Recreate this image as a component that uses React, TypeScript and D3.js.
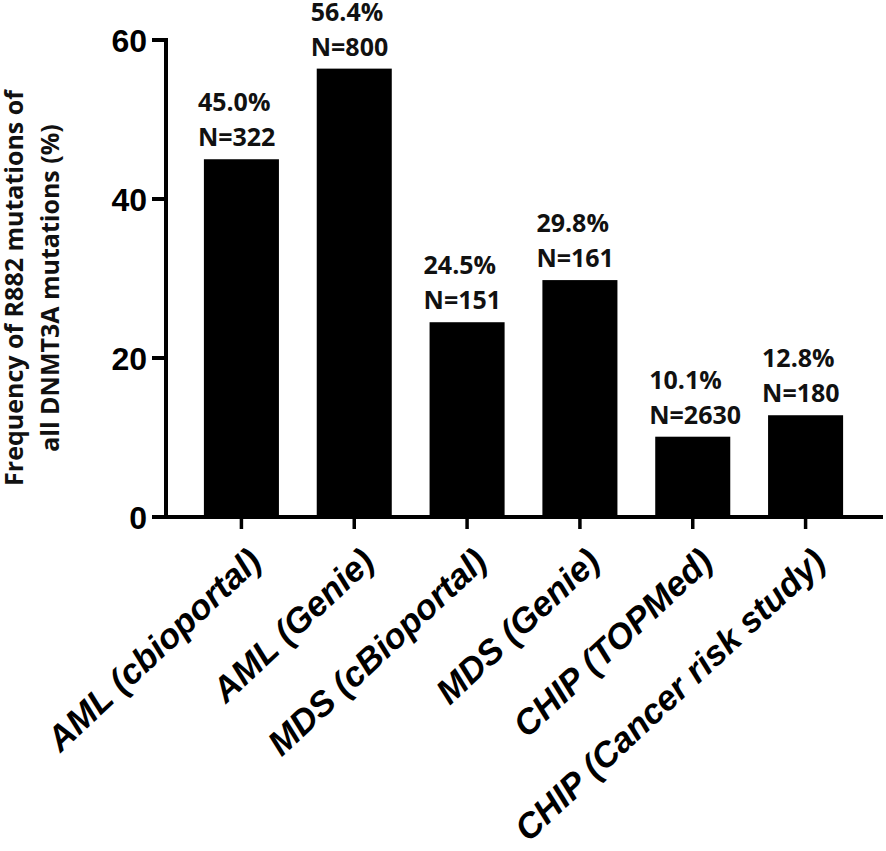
import { useEffect, useRef } from 'react';
import * as d3 from 'd3';

const categories = [
  'AML (cbioportal)',
  'AML (Genie)',
  'MDS (cBioportal)',
  'MDS (Genie)',
  'CHIP (TOPMed)',
  'CHIP (Cancer risk study)',
];
const frequencies = [45.0, 56.4, 24.5, 29.8, 10.1, 12.8];
const sampleSizes = [322, 800, 151, 161, 2630, 180];
const yTicks = [0, 20, 40, 60];

const W = 886;
const H = 851;

export default function App() {
  const svgRef = useRef<SVGSVGElement>(null);

  useEffect(() => {
    if (!svgRef.current) return;
    const svg = d3.select(svgRef.current);
    svg.selectAll('*').remove();

    const axisX = 166;
    const y = d3.scaleLinear().domain([0, 60]).range([517, 40]);
    const x = d3.scaleBand<string>()
      .domain(categories)
      .range([185, 862])
      .paddingInner(0.335)
      .paddingOuter(0.1675);

    // bars
    svg.append('g')
      .selectAll('rect')
      .data(categories)
      .enter()
      .append('rect')
      .attr('x', (d) => x(d)!)
      .attr('y', (d, i) => y(frequencies[i]))
      .attr('width', x.bandwidth())
      .attr('height', (d, i) => y(0) - y(frequencies[i]))
      .attr('fill', '#000');

    // value labels, left aligned over the bars
    const lbl = svg.append('g')
      .attr('font-family', '"Open Sans", sans-serif')
      .attr('font-weight', 700)
      .attr('font-size', 25)
      .attr('fill', '#111');
    categories.forEach((c, i) => {
      const top = y(frequencies[i]);
      lbl.append('text')
        .attr('x', x(c)! - 6)
        .attr('y', top - 48)
        .text(`${frequencies[i].toFixed(1)}%`);
      lbl.append('text')
        .attr('x', x(c)! - 6)
        .attr('y', top - 13)
        .text(`N=${sampleSizes[i]}`);
    });

    // y axis
    svg.append('line')
      .attr('x1', axisX).attr('x2', axisX)
      .attr('y1', y(60) - 2).attr('y2', y(0) + 2)
      .attr('stroke', '#000').attr('stroke-width', 4);
    const ya = svg.append('g');
    yTicks.forEach((t) => {
      ya.append('line')
        .attr('x1', axisX - 14).attr('x2', axisX)
        .attr('y1', y(t)).attr('y2', y(t))
        .attr('stroke', '#000').attr('stroke-width', 4);
      ya.append('text')
        .attr('x', axisX - 19)
        .attr('y', y(t))
        .attr('dy', '0.36em')
        .attr('text-anchor', 'end')
        .attr('font-family', '"Liberation Sans", Arial, sans-serif')
        .attr('font-weight', 700)
        .attr('font-size', 32)
        .text(t);
    });

    // x axis
    svg.append('line')
      .attr('x1', axisX - 2).attr('x2', 883)
      .attr('y1', y(0)).attr('y2', y(0))
      .attr('stroke', '#000').attr('stroke-width', 4);
    categories.forEach((c) => {
      const cx = x(c)! + x.bandwidth() / 2;
      svg.append('line')
        .attr('x1', cx).attr('x2', cx)
        .attr('y1', y(0)).attr('y2', y(0) + 12)
        .attr('stroke', '#000').attr('stroke-width', 3.5);
      svg.append('text')
        .attr('transform', `translate(${cx + 22},${y(0) + 47}) rotate(-43)`)
        .attr('text-anchor', 'end')
        .attr('font-family', '"Liberation Sans", Arial, sans-serif')
        .attr('font-weight', 700)
        .attr('font-style', 'italic')
        .attr('font-size', 35)
        .text(c);
    });

    // y axis title
    const title = svg.append('text')
      .attr('transform', `translate(23,288) rotate(-90)`)
      .attr('text-anchor', 'middle')
      .attr('font-family', '"Open Sans", sans-serif')
      .attr('font-weight', 700)
      .attr('font-size', 25)
      .attr('fill', '#111');
    title.append('tspan').attr('x', 0).attr('y', 0).text('Frequency of R882 mutations of');
    title.append('tspan').attr('x', 0).attr('y', 36).text('all DNMT3A mutations (%)');
  }, []);

  return (
    <div style={{ position: 'absolute', left: 0, top: 0, background: '#fff' }}>
      <svg ref={svgRef} width={W} height={H} style={{ display: 'block' }} />
    </div>
  );
}
